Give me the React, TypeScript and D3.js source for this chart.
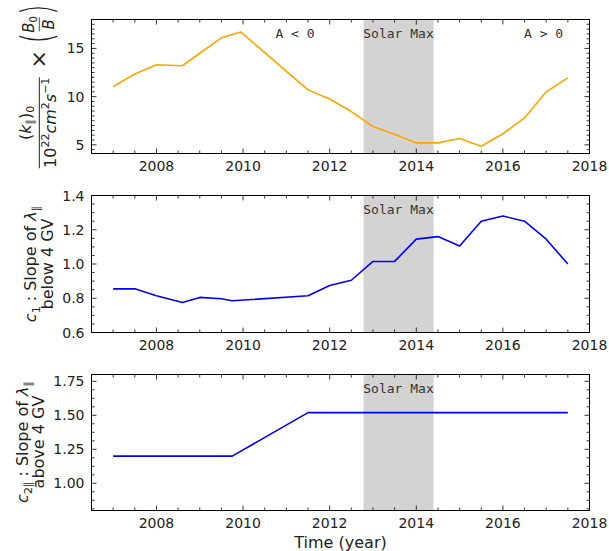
import React from 'react';
import * as d3 from 'd3';

const W = 609;
const H = 551;

// time axis
const xDomain = [2006.5, 2018];
const xLabels = [2008, 2010, 2012, 2014, 2016, 2018];
const solarMax = [2012.78, 2014.4];

// panel 1: (k||)0 x (B0/B)
const years1 = [2007, 2007.5, 2008, 2008.6, 2009, 2009.5, 2009.95, 2011.5, 2012, 2012.5, 2013, 2013.5, 2014, 2014.5, 2015, 2015.5, 2016, 2016.5, 2017, 2017.5];
const kPar = [11.05, 12.35, 13.3, 13.2, 14.5, 16.1, 16.7, 10.7, 9.75, 8.45, 6.9, 6.1, 5.2, 5.2, 5.65, 4.85, 6.15, 7.8, 10.5, 11.95];
const kTicks = [5, 10, 15];

// panel 2: c1
const years2 = [2007, 2007.5, 2008, 2008.6, 2009, 2009.5, 2009.75, 2011.5, 2012, 2012.5, 2013, 2013.5, 2014, 2014.5, 2015, 2015.5, 2016, 2016.5, 2017, 2017.5];
const c1 = [0.855, 0.855, 0.815, 0.775, 0.805, 0.797, 0.785, 0.815, 0.875, 0.905, 1.015, 1.015, 1.145, 1.16, 1.105, 1.25, 1.28, 1.25, 1.145, 1.0];
const c1Ticks = [0.6, 0.8, 1.0, 1.2, 1.4];

// panel 3: c2||
const years3 = [2007, 2009.75, 2011.5, 2017.5];
const c2 = [1.2, 1.2, 1.52, 1.52];
const c2Ticks = [1.0, 1.25, 1.5, 1.75];

const X0 = 91.5, X1 = 589.5;
const x = d3.scaleLinear().domain(xDomain).range([X0, X1]);

const TICK_FONT = 'DejaVu Sans, sans-serif';
const MONO = 'DejaVu Sans Mono, monospace';
const INK = '#222';

const panels = [
  {
    id: 'k', top: 19.5, bottom: 153.5, domain: [4.1, 18], ticks: kTicks, minor: 0.5,
    fmt: (d: number) => d3.format('d')(d), xs: years1, ys: kPar, color: '#FFA500',
    notes: [{ t: 'A < 0', x: 2011.2 }, { t: 'Solar Max', x: 2013.59 }, { t: 'A > 0', x: 2016.94 }],
  },
  {
    id: 'c1', top: 195.5, bottom: 332.5, domain: [0.6, 1.4], ticks: c1Ticks, minor: 0.05,
    fmt: d3.format('.1f'), xs: years2, ys: c1, color: '#0000FF',
    notes: [{ t: 'Solar Max', x: 2013.59 }],
  },
  {
    id: 'c2', top: 374.5, bottom: 510.5, domain: [0.8, 1.8], ticks: c2Ticks, minor: 0.0625,
    fmt: d3.format('.2f'), xs: years3, ys: c2, color: '#0000FF',
    notes: [{ t: 'Solar Max', x: 2013.59 }],
  },
];

function Panel({ p }: { p: any }) {
  const y = d3.scaleLinear().domain(p.domain).range([p.bottom, p.top]);
  const line = d3.line<number>().x((d, i) => x(p.xs[i])).y(d => y(d));
  const xMinor = d3.range(xDomain[0], xDomain[1] + 0.001, 0.5);
  const start = Math.ceil(p.domain[0] / p.minor - 1e-6) * p.minor;
  const yMinor = d3.range(start, p.domain[1] + 1e-6, p.minor);
  const isMajorX = (v: number) => xLabels.some(l => Math.abs(l - v) < 1e-6);
  const isMajorY = (v: number) => p.ticks.some((l: number) => Math.abs(l - v) < 1e-6);
  return (
    <g>
      <rect x={x(solarMax[0])} y={p.top} width={x(solarMax[1]) - x(solarMax[0])} height={p.bottom - p.top} fill="#d3d3d3" />
      <path d={line(p.ys) || ''} fill="none" stroke={p.color} strokeWidth={1.6} strokeLinejoin="round" />
      {p.notes.map((n: any) => (
        <text key={n.t} x={x(n.x)} y={p.top + 18.5} textAnchor="middle" fontFamily={MONO} fontSize={13} fill="#333">{n.t}</text>
      ))}
      <rect x={X0} y={p.top} width={X1 - X0} height={p.bottom - p.top} fill="none" stroke="#000" strokeWidth={1} />
      {xMinor.map(v => {
        const len = isMajorX(v) ? 5 : 3;
        return (
          <g key={'x' + v} stroke="#000" strokeWidth={0.8}>
            <line x1={x(v)} x2={x(v)} y1={p.bottom} y2={p.bottom - len} />
            <line x1={x(v)} x2={x(v)} y1={p.top} y2={p.top + len} />
          </g>
        );
      })}
      {yMinor.map(v => {
        const len = isMajorY(v) ? 5 : 3;
        return (
          <g key={'y' + v} stroke="#000" strokeWidth={0.8}>
            <line x1={X0} x2={X0 + len} y1={y(v)} y2={y(v)} />
            <line x1={X1} x2={X1 - len} y1={y(v)} y2={y(v)} />
          </g>
        );
      })}
      {xLabels.map(v => (
        <text key={'xl' + v} x={x(v)} y={p.bottom + 17.5} textAnchor="middle" fontFamily={TICK_FONT} fontSize={14} fill={INK}>{v}</text>
      ))}
      {p.ticks.map((v: number) => (
        <text key={'yl' + v} x={X0 - 7} y={y(v) + 5} textAnchor="end" fontFamily={TICK_FONT} fontSize={14} fill={INK}>{p.fmt(v)}</text>
      ))}
    </g>
  );
}

function KLabel() {
  // rotated group centred on the fraction bar
  const sub = 11;
  return (
    <g transform="translate(39.3, 86.4) rotate(-90)" fontFamily={TICK_FONT} fill={INK}>
      <line x1={-81.9} x2={9.1} y1={0} y2={0} stroke={INK} strokeWidth={1} />
      <text x={-36.4} y={-8} textAnchor="middle" fontSize={16}>
        (<tspan fontStyle="italic">k</tspan>
        <tspan dy={3} fontSize={sub}>∥</tspan>
        <tspan dy={-3}>)</tspan>
        <tspan dy={3} fontSize={sub}>0</tspan>
      </text>
      <text x={-36.4} y={17} textAnchor="middle" fontSize={16}>
        10<tspan dy={-7} fontSize={sub}>22</tspan>
        <tspan dy={7} fontStyle="italic">cm</tspan>
        <tspan dy={-7} fontSize={sub}>2</tspan>
        <tspan dy={7} fontStyle="italic">s</tspan>
        <tspan dy={-7} fontSize={sub}>−1</tspan>
      </text>
      <text x={27.1} y={7} textAnchor="middle" fontSize={22}>×</text>
      <path d="M 50 -20 Q 43 -1 50 18" fill="none" stroke={INK} strokeWidth={1.2} />
      <path d="M 75 -20 Q 82 -1 75 18" fill="none" stroke={INK} strokeWidth={1.2} />
      <text x={62} y={-5} textAnchor="middle" fontSize={15} fontStyle="italic">
        B<tspan dy={3} fontSize={10} fontStyle="normal">0</tspan>
      </text>
      <line x1={55} x2={69} y1={0} y2={0} stroke={INK} strokeWidth={0.8} />
      <text x={62} y={15} textAnchor="middle" fontSize={15} fontStyle="italic">B</text>
    </g>
  );
}

function SlopeLabel({ cy, x1, x2, sub, line2 }: { cy: number; x1: number; x2: number; sub: string; line2: string }) {
  return (
    <g fontFamily={TICK_FONT} fontSize={16} fill={INK}>
      <text transform={`translate(${x1}, ${cy}) rotate(-90)`} textAnchor="middle">
        <tspan fontStyle="italic">c</tspan>
        <tspan dy={4} fontSize={11}>{sub}</tspan>
        <tspan dy={-4}> : Slope of </tspan>
        <tspan fontStyle="italic">λ</tspan>
        <tspan dy={4} fontSize={11}>∥</tspan>
      </text>
      <text transform={`translate(${x2}, ${cy}) rotate(-90)`} textAnchor="middle">{line2}</text>
    </g>
  );
}

export default function App() {
  return (
    <div style={{ position: 'absolute', left: 0, top: 0 }}>
      <svg width={W} height={H} style={{ display: 'block', background: '#fff' }}>
        {panels.map(p => <Panel key={p.id} p={p} />)}
        <KLabel />
        <SlopeLabel cy={264} x1={35.5} x2={52.5} sub="1" line2="below 4 GV" />
        <SlopeLabel cy={442} x1={27.5} x2={43.5} sub="2∥" line2="above 4 GV" />
        <text x={(X0 + X1) / 2} y={548} textAnchor="middle" fontFamily={TICK_FONT} fontSize={16} fill={INK}>Time (year)</text>
      </svg>
    </div>
  );
}
